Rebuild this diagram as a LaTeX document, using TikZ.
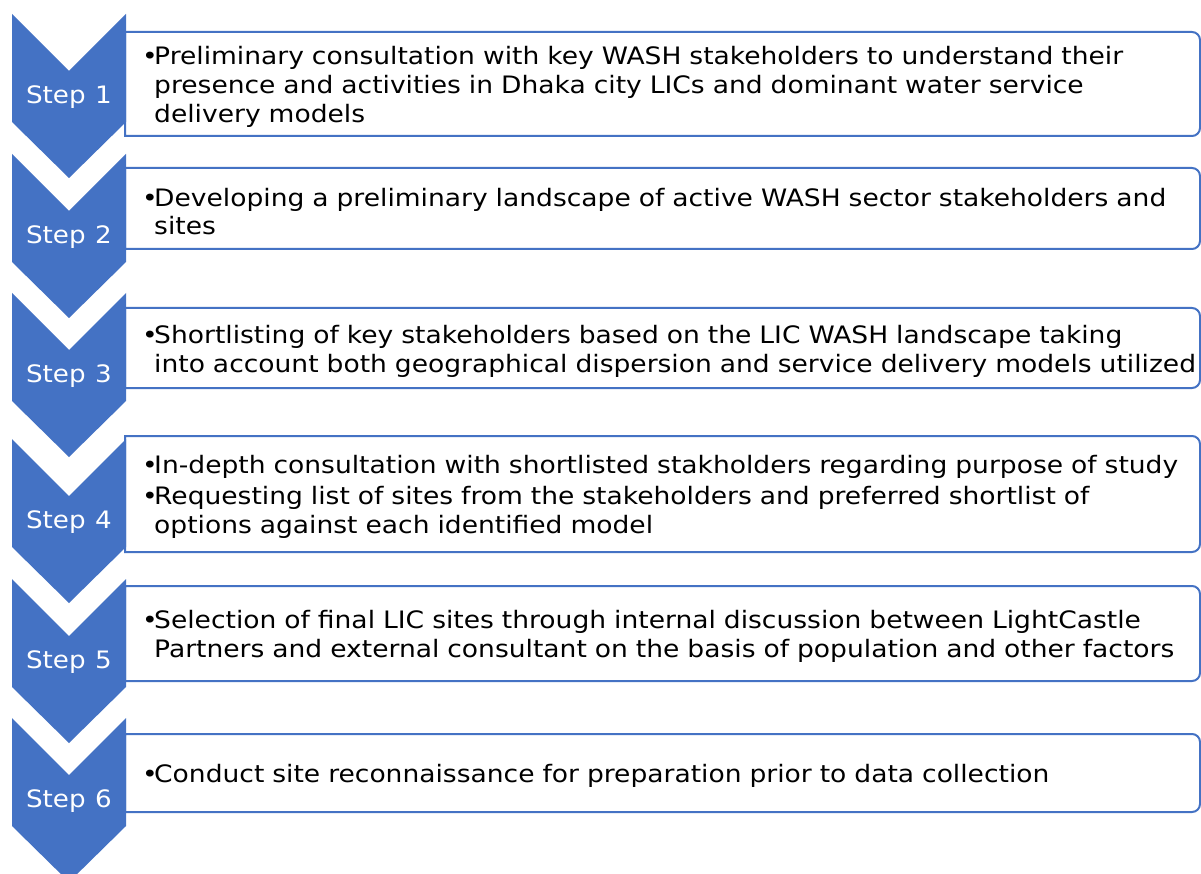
\documentclass[tikz,border=0pt]{standalone}
\usepackage{fontspec}
\setmainfont{DejaVu Sans}[FakeStretch=1.09, WordSpace=1.15]
\newfontfamily\boxfont{DejaVu Sans}[FakeStretch=1.105, WordSpace=1.17]
\definecolor{stepblue}{HTML}{4472C4}
% one bullet: #1 = lines separated by \par
\newcommand\bitem[1]{\noindent\hbox to 12pt{•\hss}\vtop{\hsize=1060pt\parindent=0pt\parskip=0pt\raggedright #1}\par}
\tikzset{
  chev/.style={fill=stepblue, draw=none},
  steplabel/.style={text=white, font=\fontsize{24}{28}\selectfont, inner sep=0pt},
  boxline/.style={draw=stepblue, line width=2pt, fill=white},
  boxtext/.style={anchor=west, inner sep=0pt, text width=1100pt, align=left,
    font=\boxfont\fontsize{24}{28.8}\selectfont}
}
\newcommand\boxat[3]{% #1 top, #2 bottom, #3 name
  \path[boxline] (125,-#1) -- (1192,-#1) arc[start angle=90,end angle=0,radius=8]
     -- (1200,-#2+8) arc[start angle=0,end angle=-90,radius=8] -- (125,-#2) -- cycle;
  \coordinate (#3) at (142,{-(#1+#2)/2-3});
}
\begin{document}
\begin{tikzpicture}[x=1pt,y=1pt]
\useasboundingbox (0,0) rectangle (1201,-874);
\fill[white] (0,0) rectangle (1201,-874);
% boxes
\boxat{32}{136}{b1}
\boxat{168}{249}{b2}
\boxat{308}{388}{b3}
\boxat{436}{552}{b4}
\boxat{586}{681}{b5}
\boxat{734}{812}{b6}
% chevrons
\fill[chev] (12,-14) -- (69,-71) -- (126,-14) -- (126,-122) -- (69,-178) -- (12,-122) -- cycle;
\fill[chev] (12,-154) -- (69,-211) -- (126,-154) -- (126,-262) -- (69,-318) -- (12,-262) -- cycle;
\fill[chev] (12,-293) -- (69,-350) -- (126,-293) -- (126,-401) -- (69,-457) -- (12,-401) -- cycle;
\fill[chev] (12,-439) -- (69,-496) -- (126,-439) -- (126,-547) -- (69,-603) -- (12,-547) -- cycle;
\fill[chev] (12,-579) -- (69,-636) -- (126,-579) -- (126,-687) -- (69,-743) -- (12,-687) -- cycle;
\fill[chev] (12,-718) -- (69,-775) -- (126,-718) -- (126,-826) -- (69,-882) -- (12,-826) -- cycle;
% step labels
\node[steplabel] (s1) at (69,-97) {Step 1};
\node[steplabel] (s2) at (69,-237) {Step 2};
\node[steplabel] (s3) at (69,-376) {Step 3};
\node[steplabel] (s4) at (69,-522) {Step 4};
\node[steplabel] (s5) at (69,-662) {Step 5};
\node[steplabel] (s6) at (69,-801) {Step 6};
% texts
\node[boxtext] (t1) at (b1) {\bitem{Preliminary consultation with key WASH stakeholders to understand their\par presence and activities in Dhaka city LICs and dominant water service\par delivery models}};
\node[boxtext] (t2) at (b2) {\bitem{Developing a preliminary landscape of active WASH sector stakeholders and\par sites}};
\node[boxtext] (t3) at (b3) {\bitem{Shortlisting of key stakeholders based on the LIC WASH landscape taking\par into account both geographical dispersion and service delivery models utilized}};
\node[boxtext] (t4) at (b4) {\bitem{In-depth consultation with shortlisted stakholders regarding purpose of study}\vspace{2pt}\bitem{Requesting list of sites from the stakeholders and preferred shortlist of\par options against each identified model}};
\node[boxtext] (t5) at (b5) {\bitem{Selection of final LIC sites through internal discussion between LightCastle\par Partners and external consultant on the basis of population and other factors}};
\node[boxtext] (t6) at (b6) {\bitem{Conduct site reconnaissance for preparation prior to data collection}};
\end{tikzpicture}
\end{document}
